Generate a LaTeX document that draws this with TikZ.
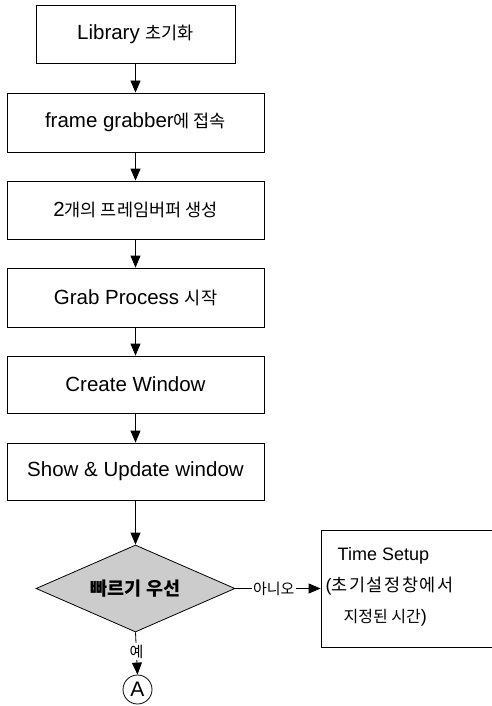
\documentclass[tikz,border=0pt]{standalone}
\usepackage{fontspec}
\setmainfont{Liberation Sans}
\newfontfamily\kr{Noto Sans CJK KR}
\usetikzlibrary{shapes.geometric,arrows.meta}
\newcommand{\ko}[1]{{\kr\fontsize{17.5}{22}\selectfont #1}}
\newcommand{\kos}[1]{{\kr\fontsize{16}{20}\selectfont #1}}
\newcommand{\kow}[1]{{\kr\fontsize{17.5}{20}\selectfont #1}}
\begin{document}
\begin{tikzpicture}[x=1pt,y=-1pt,
  every node/.style={font=\fontsize{20.5}{24}\selectfont},
  stepbox/.style={draw, line width=0.8pt, minimum height=58pt, inner sep=0pt},
  flow/.style={line width=0.8pt, -{Triangle[length=12pt,width=10pt]}},
  lbl/.style={fill=white, inner sep=1.5pt, font=\kr\fontsize{15}{17}\selectfont}]
\useasboundingbox (0,0) rectangle (492,706);
\clip (0,0) rectangle (492,706);
\node[stepbox, minimum width=199pt] (b1) at (135.5,34) {Library \ko{초기화}};
\node[stepbox, minimum width=257pt, minimum height=59pt] (b2) at (135.5,122.5) {frame grabber\ko{에 접속}};
\node[stepbox, minimum width=257pt] (b3) at (135.5,210) {2\ko{개의 프레임버퍼 생성}};
\node[stepbox, minimum width=257pt, minimum height=59pt] (b4) at (135.5,297.5) {Grab Process \ko{시작}};
\node[stepbox, minimum width=257pt, minimum height=57pt] (b5) at (135.5,384.5) {Create Window};
\node[stepbox, minimum width=257pt, minimum height=57pt] (b6) at (135.5,471.5) {Show \& Update window};
\node[diamond, draw, line width=0.8pt, fill=gray!40, aspect=2.29, minimum width=199pt, minimum height=87pt, inner sep=0pt, font=\kr\bfseries\fontsize{18.5}{22}\selectfont] (d) at (135.5,588.5) {빠르기 우선};
\node[draw, line width=0.8pt, minimum width=198pt, minimum height=117pt] (ts) at (420,588.5) {};
\node[align=left, anchor=west, inner sep=0pt, font=\fontsize{18}{31}\selectfont] (tst) at (325.5,587) {\hspace*{12pt}Time Setup\\(\kow{초\kern1.5pt 기\kern1.5pt 설\kern1.5pt 정\kern1.5pt 창\kern1.5pt 에\kern1.5pt 서}\\\hspace*{18pt}\kos{지정된 시간})};
\node[circle, draw, line width=0.8pt, minimum size=29pt, inner sep=0pt, font=\fontsize{21}{24}\selectfont] (A) at (137.5,689.5) {A};
\draw[flow] (b1) -- (b2);
\draw[flow] (b2) -- (b3);
\draw[flow] (b3) -- (b4);
\draw[flow] (b4) -- (b5);
\draw[flow] (b5) -- (b6);
\draw[flow] (b6) -- (d);
\draw[flow] (d.east) -- node[lbl, pos=0.45] {아니오} (ts.west);
\draw[flow] (d.south) -- node[lbl, pos=0.45] {예} (A.north);
\end{tikzpicture}
\end{document}
